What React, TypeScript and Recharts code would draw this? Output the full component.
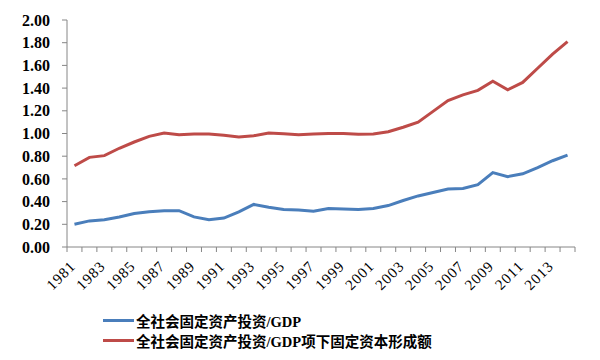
import React from "react";
import { LineChart, Line, XAxis, YAxis, Legend } from "recharts";

const YEARS = [
  "1981", "1982", "1983", "1984", "1985", "1986", "1987", "1988", "1989", "1990",
  "1991", "1992", "1993", "1994", "1995", "1996", "1997", "1998", "1999", "2000",
  "2001", "2002", "2003", "2004", "2005", "2006", "2007", "2008", "2009", "2010",
  "2011", "2012", "2013", "2014",
];

const FAI_GDP = [
  0.20, 0.23, 0.24, 0.265, 0.295, 0.31, 0.32, 0.32, 0.265, 0.24,
  0.255, 0.31, 0.375, 0.35, 0.33, 0.325, 0.315, 0.34, 0.335, 0.33,
  0.34, 0.365, 0.41, 0.45, 0.48, 0.51, 0.515, 0.55, 0.655, 0.62,
  0.645, 0.70, 0.76, 0.81,
];

const GFCF_RATIO = [
  0.716, 0.79, 0.805, 0.87, 0.925, 0.975, 1.005, 0.99, 0.995, 0.995,
  0.985, 0.97, 0.98, 1.005, 0.998, 0.99, 0.995, 1.0, 1.0, 0.993,
  0.995, 1.015, 1.055, 1.10, 1.195, 1.29, 1.34, 1.38, 1.46, 1.385,
  1.45, 1.575, 1.70, 1.81,
];

const Y_TICKS = [0, 0.2, 0.4, 0.6, 0.8, 1.0, 1.2, 1.4, 1.6, 1.8, 2.0];

const SERIES_NAMES = ["全社会固定资产投资/GDP", "全社会固定资产投资/GDP项下固定资本形成额"];
const COLORS = ["#4a7ebb", "#be4b48"];

const data = YEARS.map((y, i) => ({ year: y, a: FAI_GDP[i], b: GFCF_RATIO[i] }));

const W = 600;
const H = 360;
const MARGIN = { top: 20, right: 25, left: 0, bottom: 10 };
const Y_AXIS_W = 67;
const PLOT_W = W - MARGIN.left - MARGIN.right - Y_AXIS_W;
const HALF_BAND = PLOT_W / YEARS.length / 2;
const AXIS_COLOR = "#868686";
const FONT = '"Liberation Serif", "Noto Sans CJK SC", serif';

const XTick = (props: any) => {
  const { x, y, payload } = props;
  const idx = YEARS.indexOf(String(payload.value));
  const isLast = idx === YEARS.length - 1;
  return (
    <g>
      <line x1={x - HALF_BAND} x2={x - HALF_BAND} y1={y} y2={y + 5} stroke={AXIS_COLOR} />
      {isLast && (
        <line x1={x + HALF_BAND} x2={x + HALF_BAND} y1={y} y2={y + 5} stroke={AXIS_COLOR} />
      )}
      {idx % 2 === 0 && (
        <text
          x={x + 2}
          y={y + 20}
          textAnchor="end"
          transform={`rotate(-45, ${x + 2}, ${y + 20})`}
          fontFamily={FONT}
          fontSize={15}
          letterSpacing={1}
          fill="#000"
        >
          {payload.value}
        </text>
      )}
    </g>
  );
};

const LegendContent = () => (
  <div style={{ fontFamily: FONT, fontSize: 14.5, fontWeight: "bold", color: "#000" }}>
    {SERIES_NAMES.map((name, i) => (
      <div key={name} style={{ display: "flex", alignItems: "center", height: 20, paddingLeft: 103 }}>
        <div style={{ width: 31, height: 3, background: COLORS[i], marginRight: 2 }} />
        <span style={{ whiteSpace: "nowrap" }}>{name}</span>
      </div>
    ))}
  </div>
);

export default function App() {
  return (
    <div style={{ position: "absolute", left: 0, top: 0, background: "#fff" }}>
      <LineChart width={W} height={H} data={data} margin={MARGIN}>
        <XAxis
          dataKey="year"
          interval={0}
          padding={{ left: HALF_BAND, right: HALF_BAND }}
          tick={<XTick />}
          tickLine={false}
          tickSize={0}
          tickMargin={0}
          height={63}
          axisLine={{ stroke: AXIS_COLOR }}
        />
        <YAxis
          width={Y_AXIS_W}
          domain={[0, 2]}
          ticks={Y_TICKS}
          interval={0}
          tickFormatter={(v: number) => v.toFixed(2)}
          tickSize={5}
          tickMargin={12}
          tickLine={{ stroke: AXIS_COLOR }}
          axisLine={{ stroke: AXIS_COLOR }}
          tick={{ fontFamily: FONT, fontSize: 16, fontWeight: "bold", fill: "#000" }}
        />
        <Legend
          verticalAlign="bottom"
          height={40}
          content={<LegendContent />}
          wrapperStyle={{ left: 0, width: W }}
        />
        <Line
          type="linear"
          dataKey="a"
          name={SERIES_NAMES[0]}
          stroke={COLORS[0]}
          strokeWidth={3}
          dot={false}
          isAnimationActive={false}
        />
        <Line
          type="linear"
          dataKey="b"
          name={SERIES_NAMES[1]}
          stroke={COLORS[1]}
          strokeWidth={3}
          dot={false}
          isAnimationActive={false}
        />
      </LineChart>
    </div>
  );
}
